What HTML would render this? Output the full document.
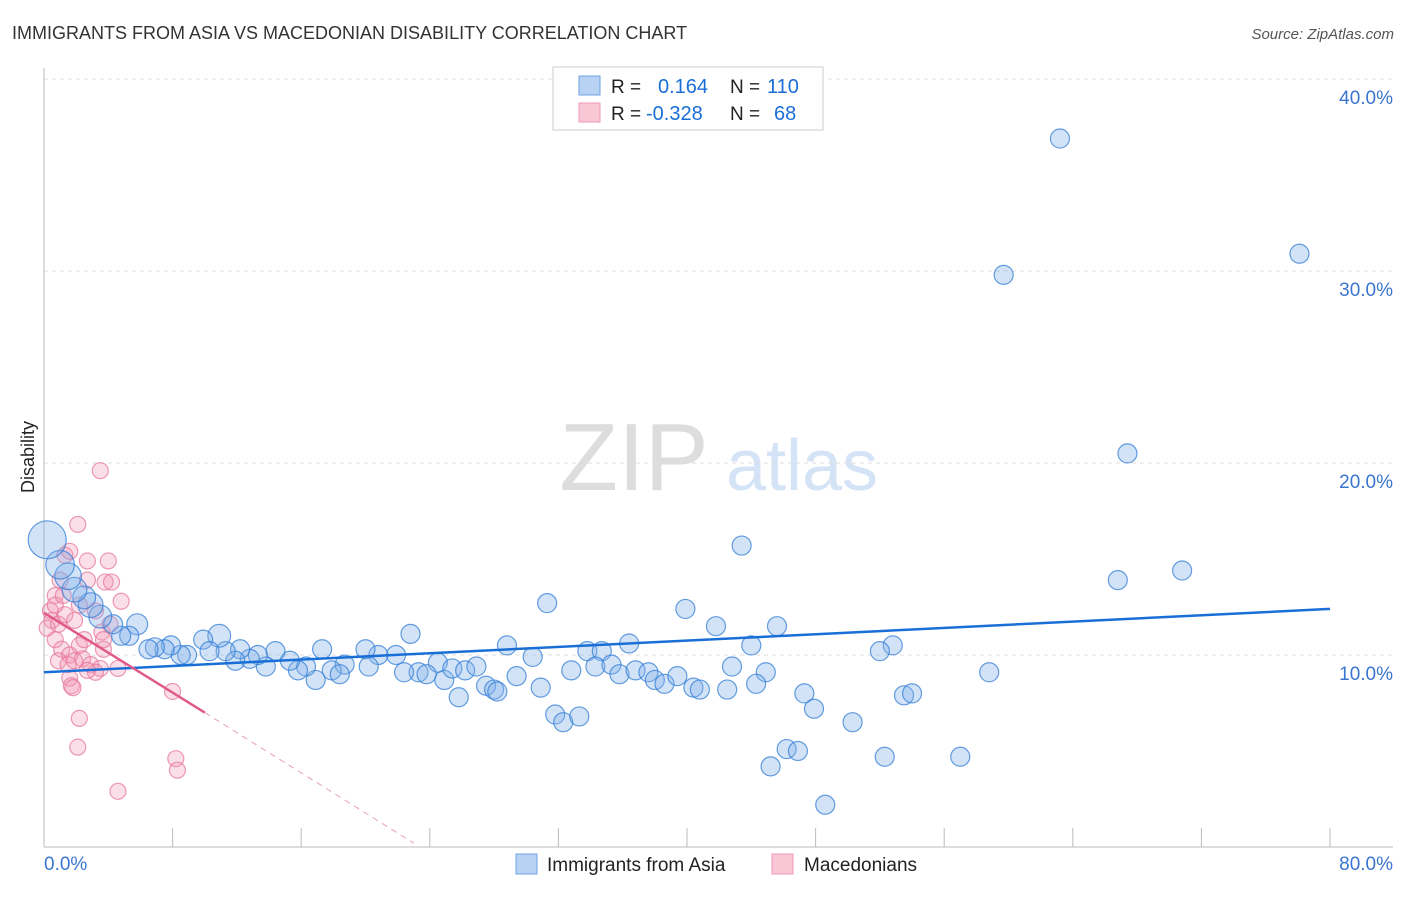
<!DOCTYPE html>
<html><head><meta charset="utf-8"><style>
body{margin:0;background:#fff;font-family:"Liberation Sans",sans-serif;}
svg text{font-family:"Liberation Sans",sans-serif;}
</style></head><body>
<svg width="1406" height="892" viewBox="0 0 1406 892" id="svg">
<text x="12" y="39" font-size="18" fill="#333">IMMIGRANTS FROM ASIA VS MACEDONIAN DISABILITY CORRELATION CHART</text>
<text x="1394" y="39" font-size="15" fill="#555" font-style="italic" text-anchor="end">Source: ZipAtlas.com</text>
<text x="0" y="0" font-size="18" fill="#222" transform="translate(34,457) rotate(-90)" text-anchor="middle">Disability</text>
<g>
<text x="634" y="490" font-size="96" fill="#ddd" font-family="Liberation Serif" text-anchor="middle">ZIP</text>
<text x="802" y="490" font-size="72" fill="#d4e3f5" text-anchor="middle">atlas</text>
</g>
<g id="grid"></g><g id="axes"></g><g id="pts"></g><g id="lines"></g>
<g>
<rect x="553" y="67" width="270" height="63" fill="#fff" stroke="#ccc"/>
<rect x="579" y="76" width="21" height="19" fill="#b7d2f3" stroke="#6fa3e3"/>
<rect x="579" y="103" width="21" height="19" fill="#f9c6d5" stroke="#ee9ab4"/>
<text x="611" y="93" font-size="19" fill="#222">R = </text><text x="658" y="93" font-size="20" fill="#1a6fd6">0.164</text>
<text x="730" y="93" font-size="19" fill="#222">N = </text><text x="767" y="93" font-size="20" fill="#1a6fd6">110</text>
<text x="611" y="120" font-size="19" fill="#222">R = </text><text x="646" y="120" font-size="20" fill="#1a6fd6">-0.328</text>
<text x="730" y="120" font-size="19" fill="#222">N = </text><text x="774" y="120" font-size="20" fill="#1a6fd6">68</text>
</g>
<g>
<rect x="516" y="854" width="21" height="20" fill="#b7d2f3" stroke="#6fa3e3"/>
<text x="547" y="871" font-size="19" fill="#222">Immigrants from Asia</text>
<rect x="772" y="854" width="21" height="20" fill="#f9c6d5" stroke="#ee9ab4"/>
<text x="804" y="871" font-size="19" fill="#222">Macedonians</text>
</g>
</svg>
<script>
const yTicks=[10,20,30,40];
const yTickLabels=["10.0%","20.0%","30.0%","40.0%"];
const xTickVals=[0,8,16,24,32,40,48,56,64,72,80];
const blueX=[63.2,78.1,59.7,67.4,43.4,66.8,70.8,31.3,39.9,41.8,45.6,22.8,36.4,44.0,52.8,52.0,28.8,33.8,34.7,30.4,58.8,42.8,44.9,32.8,34.3,35.3,35.8,36.8,37.6,38.0,38.6,39.4,40.4,40.8,42.5,44.3,47.3,47.9,50.3,53.5,54.0,31.8,32.3,33.3,30.9,29.4,27.5,28.0,28.2,25.8,24.9,24.5,25.4,26.2,26.9,23.3,22.4,23.8,21.9,20.8,20.0,18.7,20.2,17.9,18.4,16.9,16.3,15.8,15.3,14.4,13.8,13.3,12.8,17.3,12.2,11.9,11.3,10.9,9.9,10.3,8.9,8.5,7.9,7.5,6.9,6.5,5.8,5.3,4.8,4.3,3.5,2.9,2.5,1.9,1.5,1.0,0.2,46.2,46.9,45.2,48.6,52.3,57.0];
const blueY=[36.9,30.9,29.8,20.5,15.7,13.9,14.4,12.7,12.4,11.5,11.5,11.1,10.6,10.5,10.5,10.2,10.5,10.2,10.2,9.9,9.1,9.4,9.1,9.2,9.4,9.5,9.0,9.2,9.1,8.7,8.5,8.9,8.3,8.2,8.2,8.5,8.0,7.2,6.5,7.9,8.0,6.9,6.5,6.8,8.3,8.9,8.4,8.2,8.1,7.8,8.7,9.6,9.3,9.2,9.4,9.1,9.1,9.0,10.0,10.0,10.3,9.5,9.4,9.2,9.0,8.7,9.4,9.2,9.7,10.2,9.4,10.0,9.8,10.3,10.3,9.7,10.2,11.0,10.8,10.2,10.0,10.0,10.5,10.3,10.4,10.3,11.6,11.0,11.0,11.6,12.0,12.6,13.0,13.4,14.1,14.7,16.0,5.1,5.0,4.2,2.2,4.7,4.7];
const blueSize=[1,1,1,1,1,1,1,1,1,1,1,1,1,1,1,1,1,1,1,1,1,1,1,1,1,1,1,1,1,1,1,1,1,1,1,1,1,1,1,1,1,1,1,1,1,1,1,1,1,1,1,1,1,1,1,1,1,1,1,1,1,1,1,1,1,1,1,1,1,1,1,1,1,1,1,1,1,1.2,1,1,1,1,1,1,1,1,1.1,1,1,1,1.2,1.3,1.2,1.3,1.4,1.5,2,1,1,1,1,1,1];
const pinkX=[3.5,2.1,1.3,1.6,2.7,4.0,1.0,2.7,3.8,4.2,4.8,0.7,0.4,0.5,0.2,0.9,1.3,1.9,2.2,3.2,3.6,4.1,0.7,1.1,1.6,0.9,1.5,1.9,2.4,2.9,3.5,3.2,2.7,1.6,1.7,1.8,3.7,3.7,2.2,2.1,8.0,8.2,8.3,4.6,2.2,2.5,0.7,1.2,4.6];
const pinkY=[19.6,16.8,15.2,15.4,14.9,14.9,13.9,13.9,13.8,13.8,12.8,13.1,12.3,11.8,11.4,11.6,12.1,11.8,12.6,12.3,11.2,11.6,10.8,10.3,10.0,9.7,9.5,9.7,9.8,9.5,9.3,9.1,9.2,8.8,8.4,8.3,10.3,10.8,6.7,5.2,8.1,4.6,4.0,2.9,10.5,10.8,12.6,13.1,9.3];
const blueLine=[[0,9.1],[80,12.4]];
const pinkLine=[[0,12.2],[10,7.0]];
const pinkDash=[[10,7.0],[23,0.2]];
const X=v=>44+v*(1330-44)/80, Y=v=>847-v*19.2;
const NS="http://www.w3.org/2000/svg";
function mk(t,a,p){const e=document.createElementNS(NS,t);for(const k in a)e.setAttribute(k,a[k]);p.appendChild(e);return e;}
const grid=document.getElementById('grid'),axes=document.getElementById('axes'),pts=document.getElementById('pts'),lines=document.getElementById('lines');
yTicks.forEach((v,i)=>{
 const l=mk('line',{x1:44,x2:1393,y1:Y(v),y2:Y(v),stroke:'#ddd','stroke-dasharray':'4,4'},grid);
 
 
 const t=mk('text',{x:1393,y:Y(v)+25,'font-size':19,fill:'#3a75d0','text-anchor':'end'},axes);
 t.textContent=yTickLabels[i];
 
 
});
mk('line',{x1:44,x2:44,y1:68,y2:847,stroke:'#bbb'},axes);
mk('line',{x1:44,x2:1393,y1:847,y2:847,stroke:'#bbb'},axes);
xTickVals.forEach(v=>{const t=mk('line',{x1:X(v),x2:X(v),y1:828,y2:847,stroke:'#bbb'},axes);
 
 });
let t0=mk('text',{x:44,y:870,'font-size':19,fill:'#3a75d0'},axes);t0.textContent='0.0%';


let t1=mk('text',{x:1393,y:870,'font-size':19,fill:'#3a75d0','text-anchor':'end'},axes);t1.textContent='80.0%';


pinkX.forEach((v,i)=>{const c=mk('circle',{cx:X(v),cy:Y(pinkY[i]),r:8,fill:'rgba(242,150,178,0.3)',stroke:'rgba(230,120,155,0.75)','stroke-width':1.2},pts);
 
 });
blueX.forEach((v,i)=>{const c=mk('circle',{cx:X(v),cy:Y(blueY[i]),r:9.5*blueSize[i],fill:'rgba(130,175,232,0.35)',stroke:'rgba(50,125,215,0.75)','stroke-width':1.2},pts);
 
 });
let bl=mk('line',{x1:X(blueLine[0][0]),y1:Y(blueLine[0][1]),x2:X(blueLine[1][0]),y2:Y(blueLine[1][1]),stroke:'#1a6fd6','stroke-width':2.5},lines);


let pl=mk('line',{x1:X(pinkLine[0][0]),y1:Y(pinkLine[0][1]),x2:X(pinkLine[1][0]),y2:Y(pinkLine[1][1]),stroke:'#e05a87','stroke-width':2.5},lines);


let pd=mk('line',{x1:X(pinkDash[0][0]),y1:Y(pinkDash[0][1]),x2:X(pinkDash[1][0]),y2:Y(pinkDash[1][1]),stroke:'#eaa0b8','stroke-width':1,'stroke-dasharray':'6,5'},lines);


</script>
</body></html>
